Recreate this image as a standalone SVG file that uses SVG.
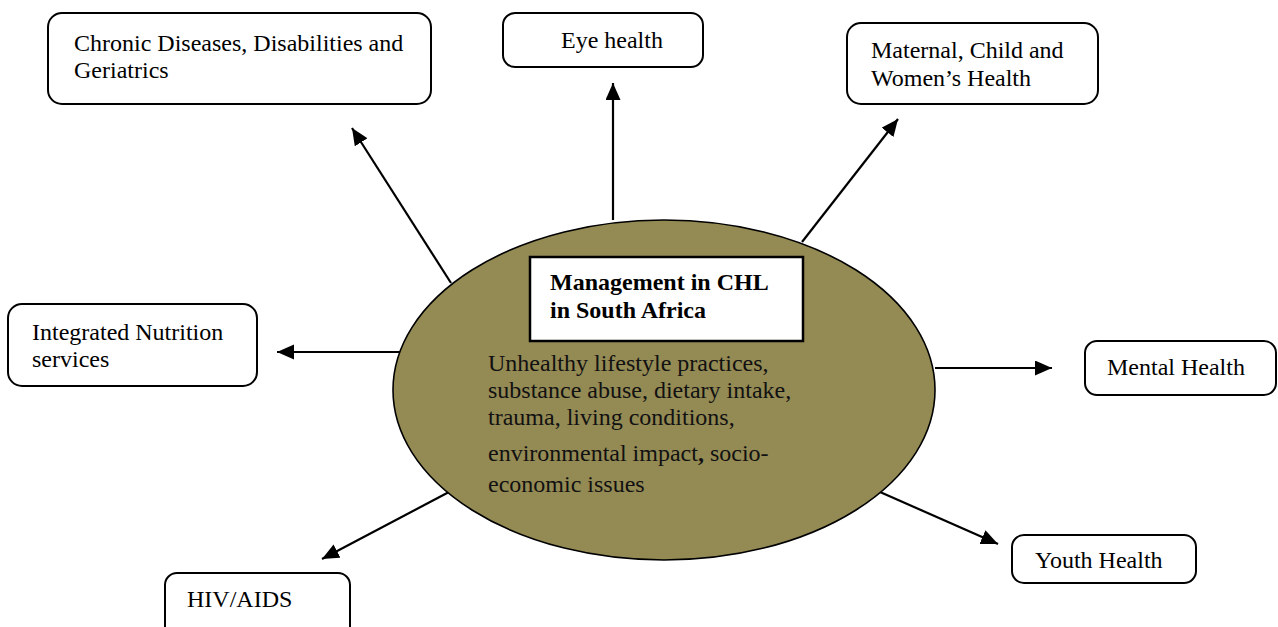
<svg xmlns="http://www.w3.org/2000/svg" width="1278" height="627" viewBox="0 0 1278 627">
  <style>
    .box { fill: #ffffff; stroke: #000000; stroke-width: 2; }
    .lbl { font-family: "Liberation Serif", "Times New Roman", serif; font-size: 24px; fill: #000000; }
    .title { font-family: "Liberation Serif", "Times New Roman", serif; font-size: 24px; font-weight: bold; fill: #000000; }
    .body { font-family: "Liberation Serif", "Times New Roman", serif; font-size: 24px; fill: #111111; }
    .conn { stroke: #000000; stroke-width: 2.2; fill: none; marker-end: url(#arrow); }
  </style>
  <defs>
    <marker id="arrow" markerUnits="userSpaceOnUse" markerWidth="18" markerHeight="16" refX="17" refY="7.5" orient="auto">
      <path d="M0,0 L17,7.5 L0,15 z" fill="#000000"/>
    </marker>
  </defs>

  <rect width="1278" height="627" fill="#ffffff"/>

  <!-- connectors from the hub outwards -->
  <g id="connectors">
    <line class="conn" x1="451" y1="283" x2="352" y2="128"/>
    <line class="conn" x1="613" y1="220" x2="613" y2="83"/>
    <line class="conn" x1="802" y1="242" x2="898" y2="119"/>
    <line class="conn" x1="401" y1="352" x2="277" y2="352"/>
    <line class="conn" x1="935" y1="368" x2="1052" y2="368"/>
    <line class="conn" x1="449" y1="492" x2="322" y2="559"/>
    <line class="conn" x1="880" y1="492" x2="998" y2="544"/>
  </g>

  <!-- central hub -->
  <g id="hub">
    <ellipse cx="664" cy="390" rx="271" ry="170" fill="#948A54" stroke="#000000" stroke-width="1.6"/>
    <rect x="530" y="257" width="273" height="84" fill="#ffffff" stroke="#000000" stroke-width="2.5"/>
    <text class="title" x="550" y="290">Management in CHL</text>
    <text class="title" x="550" y="318">in South  Africa</text>
    <text class="body" x="488" y="371">Unhealthy lifestyle practices,</text>
    <text class="body" x="488" y="398">substance abuse, dietary intake,</text>
    <text class="body" x="488" y="425">trauma, living conditions,</text>
    <text class="body" x="488" y="461">environmental impact<tspan font-weight="bold">,</tspan> socio-</text>
    <text class="body" x="488" y="492">economic issues</text>
  </g>

  <g id="chronic">
    <rect class="box" x="48" y="13" width="383" height="91" rx="14"/>
    <text class="lbl" x="74" y="51">Chronic Diseases, Disabilities and</text>
    <text class="lbl" x="74" y="78">Geriatrics</text>
  </g>

  <g id="eye">
    <rect class="box" x="503" y="13" width="200" height="54" rx="12"/>
    <text class="lbl" x="561" y="48">Eye health</text>
  </g>

  <g id="maternal">
    <rect class="box" x="847" y="23" width="251" height="81" rx="14"/>
    <text class="lbl" x="871" y="58">Maternal, Child and</text>
    <text class="lbl" x="871" y="86">Women’s Health</text>
  </g>

  <g id="nutrition">
    <rect class="box" x="8" y="304" width="249" height="82" rx="14"/>
    <text class="lbl" x="32" y="340">Integrated Nutrition</text>
    <text class="lbl" x="32" y="367">services</text>
  </g>

  <g id="mental">
    <rect class="box" x="1085" y="341" width="191" height="54" rx="12"/>
    <text class="lbl" x="1107" y="375">Mental Health</text>
  </g>

  <g id="hiv">
    <rect class="box" x="165" y="573" width="185" height="80" rx="12"/>
    <text class="lbl" x="187" y="607">HIV/AIDS</text>
  </g>

  <g id="youth">
    <rect class="box" x="1012" y="535" width="184" height="48" rx="12"/>
    <text class="lbl" x="1035" y="568">Youth Health</text>
  </g>
</svg>
